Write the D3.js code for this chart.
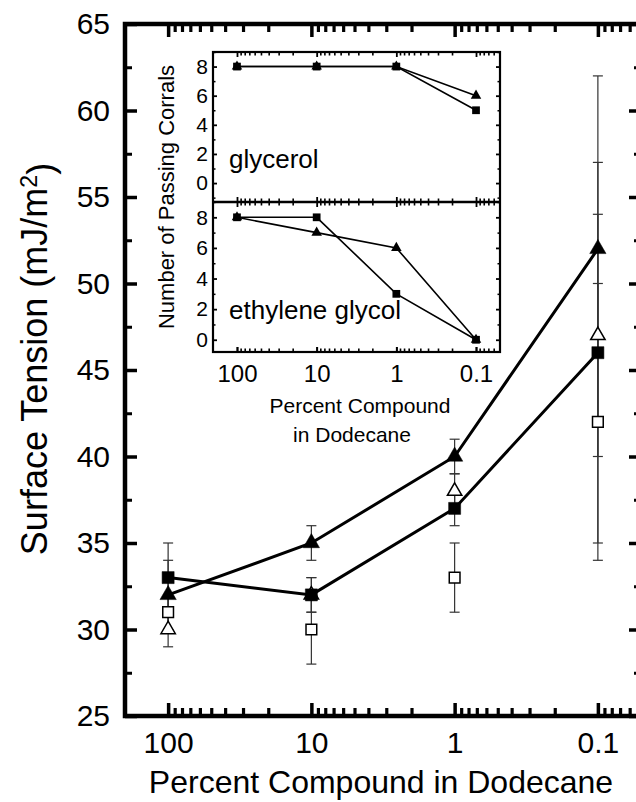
<!DOCTYPE html>
<html>
<head>
<meta charset="utf-8">
<script src="https://cdn.jsdelivr.net/npm/d3@7"></script>
<style>
  html, body { margin: 0; padding: 0; background: #fff; }
  svg { display: block; font-family: "Liberation Sans", Arial, Helvetica, sans-serif; }
</style>
</head>
<body>
<div id="chart"></div>
<script>
// main plot data (surface tension vs percent compound)
const pct = [100, 10, 1, 0.1];
const triFilled = [32, 35, 40, 52];
const triFilledErr = [2, 1, 1, 10];
const sqFilled = [33, 32, 37, 46];
const sqFilledErr = [2, 1, 1, 11];
const triOpen = [30, 32, 38, 47];
const triOpenErr = [1, 1, 1, 7];
const sqOpen = [31, 30, 33, 42];
const sqOpenErr = [1, 2, 2, 8];

// inset data (number of passing corrals)
const glyTri = [8, 8, 8, 6];
const glySq = [8, 8, 8, 5];
const egTri = [8, 7, 6, 0];
const egSq = [8, 8, 3, 0];

const yMajor = [25, 30, 35, 40, 45, 50, 55, 60, 65];
const yMinor = [27.5, 32.5, 37.5, 42.5, 47.5, 52.5, 57.5, 62.5];
const insetMajor = [0, 2, 4, 6, 8];
const insetMinor = [-1, 1, 3, 5, 7, 9];

const W = 636, H = 802;
const svg = d3.select("#chart").append("svg")
    .attr("width", W).attr("height", H);

// ---------- main plot ----------
const x = d3.scaleLog().domain([200, 0.05]).range([125, 641]);
const y = d3.scaleLinear().domain([25, 65]).range([716, 24]);
const logMinor = x.ticks(10).filter(d => !pct.some(p => Math.abs(p - d) < 1e-9) && d < 150 && d > 0.055);

function addAxis(axis, tr, sw) {
  const g = svg.append("g").attr("transform", tr).call(axis);
  g.select(".domain").remove();
  g.selectAll(".tick line").attr("stroke", "#000").attr("stroke-width", sw);
  return g;
}

addAxis(d3.axisBottom(x).tickValues(pct).tickSize(-13).tickPadding(16).tickFormat(d => d), "translate(0,716)", 3.5)
  .selectAll("text").attr("font-size", 30).attr("fill", "#000").attr("font-family", null);
addAxis(d3.axisBottom(x).tickValues(logMinor).tickSize(-8).tickFormat(""), "translate(0,716)", 3.2);
addAxis(d3.axisTop(x).tickValues(pct).tickSize(-13).tickFormat(""), "translate(0,24)", 3.5);
addAxis(d3.axisTop(x).tickValues(logMinor).tickSize(-8).tickFormat(""), "translate(0,24)", 3.2);

addAxis(d3.axisLeft(y).tickValues(yMajor).tickSize(-12).tickPadding(15), "translate(125,0)", 3.5)
  .selectAll("text").attr("font-size", 30).attr("fill", "#000").attr("font-family", null);
addAxis(d3.axisLeft(y).tickValues(yMinor).tickSize(-7).tickFormat(""), "translate(125,0)", 3);
addAxis(d3.axisRight(y).tickValues(yMajor).tickSize(-12).tickFormat(""), "translate(641,0)", 3.5);
addAxis(d3.axisRight(y).tickValues(yMinor).tickSize(-7).tickFormat(""), "translate(641,0)", 3);

svg.append("rect")
    .attr("x", 125).attr("y", 24).attr("width", 516).attr("height", 692)
    .attr("fill", "none").attr("stroke", "#000").attr("stroke-width", 4.5);

// error bars
const errSeries = [
  { v: triFilled, e: triFilledErr },
  { v: sqFilled, e: sqFilledErr },
  { v: triOpen, e: triOpenErr },
  { v: sqOpen, e: sqOpenErr }
];
const eb = svg.append("g").attr("stroke", "#333").attr("stroke-width", 1.2);
errSeries.forEach(s => {
  pct.forEach((p, i) => {
    const cx = x(p), lo = y(s.v[i] - s.e[i]), hi = y(s.v[i] + s.e[i]);
    eb.append("line").attr("x1", cx).attr("x2", cx).attr("y1", lo).attr("y2", hi);
    eb.append("line").attr("x1", cx - 5).attr("x2", cx + 5).attr("y1", lo).attr("y2", lo);
    eb.append("line").attr("x1", cx - 5).attr("x2", cx + 5).attr("y1", hi).attr("y2", hi);
  });
});

// connecting lines
const line = d3.line().x((d, i) => x(pct[i])).y(d => y(d));
[triFilled, sqFilled].forEach(s => {
  svg.append("path").attr("d", line(s))
      .attr("fill", "none").attr("stroke", "#000").attr("stroke-width", 3);
});

// markers
const triSym = d3.symbol().type(d3.symbolTriangle).size(115);
const sqSym = d3.symbol().type(d3.symbolSquare).size(145);
const triOpenSym = d3.symbol().type(d3.symbolTriangle).size(90);
const sqOpenSym = d3.symbol().type(d3.symbolSquare).size(115);

function markers(vals, sym, filled, sc, xs) {
  svg.append("g").selectAll("path").data(vals).join("path")
      .attr("transform", (d, i) => `translate(${xs(pct[i])},${sc(d)})`)
      .attr("d", sym)
      .attr("fill", filled ? "#000" : "#fff")
      .attr("stroke", "#000")
      .attr("stroke-width", filled ? 0.5 : 1.5);
}
markers(sqOpen, sqOpenSym, false, y, x);
markers(triOpen, triOpenSym, false, y, x);
markers(sqFilled, sqSym, true, y, x);
markers(triFilled, triSym, true, y, x);

// axis titles
svg.append("text")
    .attr("x", 381).attr("y", 793)
    .attr("text-anchor", "middle").attr("font-size", 32)
    .text("Percent Compound in Dodecane");

const yt = svg.append("text")
    .attr("transform", "translate(47,359) rotate(-90)")
    .attr("text-anchor", "middle").attr("font-size", 36);
yt.append("tspan").text("Surface Tension (mJ/m");
yt.append("tspan").attr("dy", "-0.45em").attr("font-size", 23).text("2");
yt.append("tspan").attr("dy", "0.45em").text(")");

// ---------- inset ----------
const xi = d3.scaleLog().domain([200, 0.05]).range([213, 500]);
const yTop = d3.scaleLinear().domain([-1.3, 9]).range([202, 52]);
const yBot = d3.scaleLinear().domain([-0.8, 9]).range([352, 202]);

svg.append("rect").attr("x", 213).attr("y", 52).attr("width", 287).attr("height", 300)
    .attr("fill", "#fff");

addAxis(d3.axisBottom(xi).tickValues(pct).tickSize(-5).tickPadding(13).tickFormat(d => d), "translate(0,352)", 1.8)
  .selectAll("text").attr("font-size", 24).attr("fill", "#000").attr("font-family", null);
[352, 202].forEach(yy => {
  addAxis(d3.axisBottom(xi).tickValues(pct).tickSize(-5).tickFormat(""), `translate(0,${yy})`, 1.8);
  addAxis(d3.axisBottom(xi).tickValues(logMinor).tickSize(-3.5).tickFormat(""), `translate(0,${yy})`, 1.6);
});
[52, 202].forEach(yy => {
  addAxis(d3.axisTop(xi).tickValues(pct).tickSize(-5).tickFormat(""), `translate(0,${yy})`, 1.8);
  addAxis(d3.axisTop(xi).tickValues(logMinor).tickSize(-3.5).tickFormat(""), `translate(0,${yy})`, 1.6);
});

[yTop, yBot].forEach(sc => {
  const minor = insetMinor.filter(v => v >= sc.domain()[0] && v <= 9);
  addAxis(d3.axisLeft(sc).tickValues(insetMajor).tickSize(-4).tickPadding(5), "translate(213,0)", 1.8)
    .selectAll("text").attr("font-size", 21).attr("fill", "#000").attr("font-family", null);
  addAxis(d3.axisLeft(sc).tickValues(minor).tickSize(-2.5).tickFormat(""), "translate(213,0)", 1.5);
  addAxis(d3.axisRight(sc).tickValues(insetMajor).tickSize(-4).tickFormat(""), "translate(500,0)", 1.8);
  addAxis(d3.axisRight(sc).tickValues(minor).tickSize(-2.5).tickFormat(""), "translate(500,0)", 1.5);
});

svg.append("rect").attr("x", 213).attr("y", 52).attr("width", 287).attr("height", 300)
    .attr("fill", "none").attr("stroke", "#000").attr("stroke-width", 2.2);
svg.append("line").attr("x1", 213).attr("x2", 500).attr("y1", 202).attr("y2", 202)
    .attr("stroke", "#000").attr("stroke-width", 2.5);

const insetTri = d3.symbol().type(d3.symbolTriangle).size(48);
const insetSq = d3.symbol().type(d3.symbolSquare).size(60);
const insetSets = [[glySq, yTop, insetSq], [glyTri, yTop, insetTri], [egSq, yBot, insetSq], [egTri, yBot, insetTri]];
insetSets.forEach(([vals, sc]) => {
  const l = d3.line().x((d, i) => xi(pct[i])).y(d => sc(d));
  svg.append("path").attr("d", l(vals))
      .attr("fill", "none").attr("stroke", "#000").attr("stroke-width", 1.6);
});
insetSets.forEach(([vals, sc, sym]) => {
  svg.append("g").selectAll("path").data(vals).join("path")
      .attr("transform", (d, i) => `translate(${xi(pct[i])},${sc(d)})`)
      .attr("d", sym).attr("fill", "#000");
});

svg.append("text").attr("x", 229).attr("y", 168).attr("font-size", 26).text("glycerol");
svg.append("text").attr("x", 229).attr("y", 319).attr("font-size", 26).text("ethylene glycol");

svg.append("text").attr("x", 360).attr("y", 413).attr("text-anchor", "middle")
    .attr("font-size", 21).text("Percent Compound");
svg.append("text").attr("x", 352).attr("y", 442).attr("text-anchor", "middle")
    .attr("font-size", 21).text("in Dodecane");
svg.append("text")
    .attr("transform", "translate(174,197) rotate(-90)")
    .attr("text-anchor", "middle").attr("font-size", 22)
    .text("Number of Passing Corrals");
</script>
</body>
</html>
